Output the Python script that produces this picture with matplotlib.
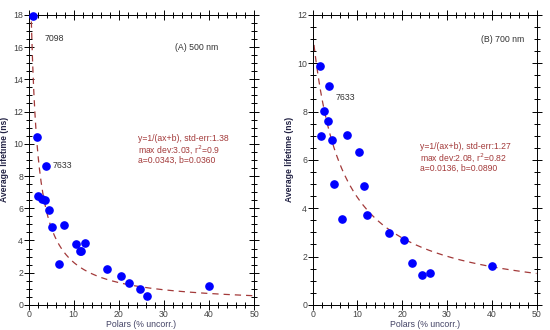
import numpy as np
import matplotlib.pyplot as plt
from matplotlib.ticker import MultipleLocator

plt.rcParams['font.family'] = ['Liberation Sans', 'DejaVu Sans']

# panel A, 500 nm
xa = [0.9, 1.8, 2.1, 2.95, 3.7, 3.9, 4.6, 5.1, 6.8, 7.75, 10.6, 11.4, 11.6, 12.4,
      17.3, 20.4, 22.2, 24.6, 26.3, 40.1]
ya = [17.9, 10.45, 6.77, 6.56, 6.48, 8.65, 5.9, 4.86, 2.54, 4.97, 3.75, 3.35, 3.33, 3.87,
      2.21, 1.80, 1.37, 0.99, 0.56, 1.18]
fit_a = (0.0343, 0.0360)
stats_a = ["y=1/(ax+b), std-err:1.38",
           "max dev:3.03, r$^2$=0.9",
           "a=0.0343, b=0.0360"]

# panel B, 700 nm
xb = [1.56, 1.86, 2.53, 3.42, 3.72, 4.32, 4.84, 6.47, 7.66, 10.4, 11.46, 12.2,
      17.1, 20.3, 22.1, 24.5, 26.2, 40.0]
yb = [9.88, 6.99, 8.03, 7.6, 9.06, 6.81, 5.02, 3.54, 7.02, 6.32, 4.91, 3.74,
      2.97, 2.70, 1.74, 1.24, 1.31, 1.60]
fit_b = (0.0136, 0.0890)
stats_b = ["y=1/(ax+b), std-err:1.27",
           "max dev:2.08, r$^2$=0.82",
           "a=0.0136, b=0.0890"]

red = "#a33a3a"
txt = "#333333"

fig = plt.figure(figsize=(5.5, 3.3), dpi=100)
ax1 = fig.add_axes([0.052, 0.076, 0.41, 0.879])
ax2 = fig.add_axes([0.5685, 0.076, 0.407, 0.879])


def panel(ax, x, y, fit, stats, ymax, title, title_xy, stats_xy, dy, labels):
    a, b = fit
    xs = np.linspace(0.01, 50, 400)
    ax.plot(xs, 1 / (a * xs + b), color=red, lw=0.9, ls=(0, (5, 4)), zorder=2)
    ax.plot(x, y, 'o', color="#0000ff", ms=5.2, mec="#0000ff", zorder=3, clip_on=False)
    ax.set_xlim(0, 50)
    ax.set_ylim(0, ymax)
    ax.xaxis.set_major_locator(MultipleLocator(10))
    ax.xaxis.set_minor_locator(MultipleLocator(2))
    ax.yaxis.set_major_locator(MultipleLocator(2))
    ax.yaxis.set_minor_locator(MultipleLocator(0.5))
    ax.tick_params(which='both', direction='inout', top=True, right=True,
                   labelsize=6.3, labelcolor="#444444", width=0.7, pad=0.5)
    ax.tick_params(which='major', length=7)
    ax.tick_params(which='minor', length=4)
    for s in ax.spines.values():
        s.set_linewidth(0.7)
    ax.set_xlabel("Polars (% uncorr.)", fontsize=6.3, color="#444466", labelpad=0.5)
    ax.yaxis.set_label_coords(-0.085, 0.47)
    ax.set_ylabel("Average lifetime (ns)", fontsize=6.2, fontweight='bold',
                  color="#222244")
    ax.text(title_xy[0], title_xy[1], title, fontsize=6.3, color=txt, va='center')
    for i, line in enumerate(stats):
        ax.text(stats_xy[0], stats_xy[1] - i * dy, line, fontsize=6.2, color=red,
                va='center')
    for lx, ly, s in labels:
        ax.text(lx, ly, s, fontsize=6.3, color=txt, va='center')


panel(ax1, xa, ya, fit_a, stats_a, 18, "(A) 500 nm", (32.5, 16.0), (24.2, 10.3), 0.65,
      [(3.5, 16.55, "7098"), (5.3, 8.65, "7633")])
panel(ax2, xb, yb, fit_b, stats_b, 12, "(B) 700 nm", (37.7, 11.0), (24.0, 6.55), 0.44,
      [(5.1, 8.6, "7633")])

fig.savefig("out.png", dpi=100)
